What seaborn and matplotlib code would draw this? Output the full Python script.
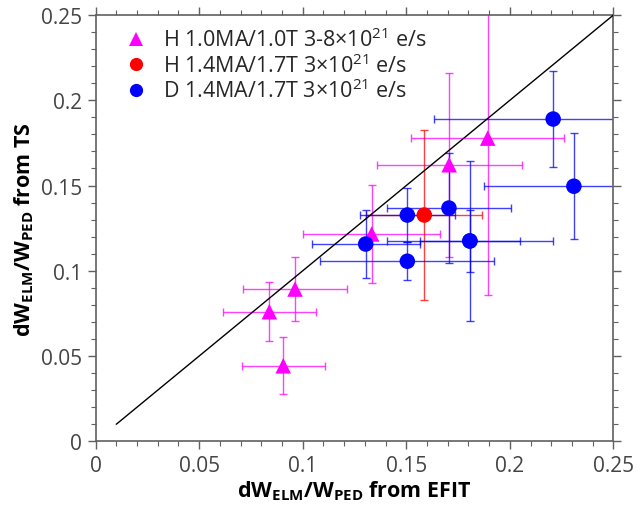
import numpy as np
import pandas as pd
import matplotlib
matplotlib.use('Agg')
import matplotlib.pyplot as plt
from matplotlib.ticker import MultipleLocator, FuncFormatter
import seaborn as sns

# group labels (legend text)
groups = ['H 1.0MA/1.0T 3-8×10$^{21}$ e/s',
          'H 1.4MA/1.7T 3×10$^{21}$ e/s',
          'D 1.4MA/1.7T 3×10$^{21}$ e/s']

# H 1.0MA/1.0T (magenta triangles)
h10_x = [0.0839, 0.0963, 0.0906, 0.1333, 0.1707, 0.1893]
h10_y = [0.0760, 0.0893, 0.0443, 0.1216, 0.1622, 0.1778]
h10_xerr = [0.0223, 0.0252, 0.0200, 0.0330, 0.0350, 0.0370]
h10_yerr = [0.0172, 0.0190, 0.0167, 0.0290, 0.0540, 0.0920]

# H 1.4MA/1.7T (red circle)
h14_x = [0.1587]
h14_y = [0.1327]
h14_xerr = [0.0280]
h14_yerr = [0.0500]

# D 1.4MA/1.7T (blue circles)
d14_x = [0.2209, 0.2309, 0.1706, 0.1505, 0.1304, 0.1807, 0.1807, 0.1505]
d14_y = [0.1890, 0.1496, 0.1368, 0.1327, 0.1157, 0.1175, 0.1175, 0.1056]
d14_xerr = [0.0574, 0.0434, 0.0300, 0.0230, 0.0260, 0.0240, 0.0400, 0.0420]
d14_yerr = [0.0280, 0.0310, 0.0320, 0.0160, 0.0200, 0.0180, 0.0470, 0.0110]

# diagonal reference line
line_x = [0.01, 0.25]
line_y = [0.01, 0.25]

colors = ['#ff00ff', '#ff0000', '#0000ff']
markers = ['^', 'o', 'o']

sns.set_theme(style='ticks')
plt.rcParams['font.family'] = ['Open Sans', 'DejaVu Sans']
plt.rcParams['mathtext.fontset'] = 'custom'
plt.rcParams['mathtext.rm'] = 'Open Sans'
plt.rcParams['mathtext.it'] = 'Open Sans:italic'
plt.rcParams['mathtext.bf'] = 'Open Sans:bold'

df = pd.concat([
    pd.DataFrame({'x': h10_x, 'y': h10_y, 'xerr': h10_xerr, 'yerr': h10_yerr, 'group': groups[0]}),
    pd.DataFrame({'x': h14_x, 'y': h14_y, 'xerr': h14_xerr, 'yerr': h14_yerr, 'group': groups[1]}),
    pd.DataFrame({'x': d14_x, 'y': d14_y, 'xerr': d14_xerr, 'yerr': d14_yerr, 'group': groups[2]}),
], ignore_index=True)

fig = plt.figure(figsize=(6.37, 5.10), dpi=100)
ax = fig.add_axes([0.15, 0.1327, 0.813, 0.8359])

# error bars
for g, c in zip(groups, colors):
    sub = df[df['group'] == g]
    ax.errorbar(sub['x'], sub['y'], xerr=sub['xerr'], yerr=sub['yerr'], fmt='none',
                ecolor=c, elinewidth=1.0, capsize=2.8, capthick=1.0, alpha=0.75, zorder=2)

sns.lineplot(x=line_x, y=line_y, color='black', linewidth=1.0, ax=ax, zorder=3)

sns.scatterplot(data=df, x='x', y='y', hue='group', style='group', hue_order=groups,
                style_order=groups, palette=colors, markers=markers, s=125,
                linewidth=0, ax=ax, zorder=4)

ax.set_xlim(0, 0.25)
ax.set_ylim(0, 0.25)
ax.xaxis.set_major_locator(MultipleLocator(0.05))
ax.yaxis.set_major_locator(MultipleLocator(0.05))
ax.xaxis.set_minor_locator(MultipleLocator(0.01))
ax.yaxis.set_minor_locator(MultipleLocator(0.01))
fmt = FuncFormatter(lambda v, p: '%g' % round(v, 4))
ax.xaxis.set_major_formatter(fmt)
ax.yaxis.set_major_formatter(fmt)

for s in ax.spines.values():
    s.set_visible(True)
    s.set_color('#606060')
    s.set_linewidth(1.2)
ax.tick_params(which='both', direction='out', top=True, right=True, colors='#606060',
               labelcolor='#444444', labelsize=15)
ax.tick_params(which='major', length=6, width=1.0)
ax.tick_params(which='minor', length=3.5, width=0.8)

ax.set_xlabel(r'$\mathbf{dW_{ELM}/W_{PED}}$ from EFIT', fontsize=15.5, fontweight='bold',
              color='black', labelpad=2)
ax.set_ylabel(r'$\mathbf{dW_{ELM}/W_{PED}}$ from TS', fontsize=15.5, fontweight='bold',
              color='black', labelpad=4)

handles, labels = ax.get_legend_handles_labels()
ax.legend(handles=handles, labels=labels, loc='upper left', frameon=False, fontsize=15.5,
          markerscale=0.85, handletextpad=0.25, labelspacing=0.08,
          bbox_to_anchor=(0.02, 0.99), borderaxespad=0.0)

fig.savefig('out.png', dpi=100)
